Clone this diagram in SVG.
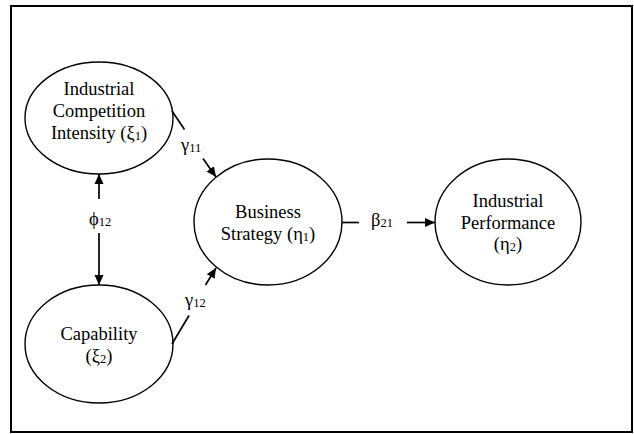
<svg xmlns="http://www.w3.org/2000/svg" width="634" height="434" viewBox="0 0 634 434">
<style>
.node ellipse{fill:#fff;stroke:#000;stroke-width:1.4}
text{font-family:'Liberation Serif','Times New Roman',serif;font-size:18.5px;fill:#000;text-anchor:middle}
.lbl{text-anchor:start;font-size:18.5px}
.sub{font-size:12.5px}
.conn line{stroke:#000;stroke-width:1.7;fill:none}
.arr{marker-end:url(#ah)}
</style>
<defs>
<marker id="ah" markerUnits="userSpaceOnUse" markerWidth="11" markerHeight="10" refX="10" refY="4.5" orient="auto" viewBox="0 0 11 9">
<path d="M0,0 L10,4.5 L0,9 z" fill="#000"/>
</marker>
</defs>
<rect x="11" y="6" width="621" height="426" fill="#fff" stroke="#000" stroke-width="2"/>
<g id="n1" class="node">
<ellipse cx="99" cy="118" rx="74" ry="56"/>
<text x="99" y="95">Industrial</text>
<text x="99" y="117">Competition</text>
<text x="99" y="139">Intensity (ξ<tspan class="sub" dy="1">1</tspan><tspan dy="-1">)</tspan></text>
</g>
<g id="n2" class="node">
<ellipse cx="99" cy="344" rx="74" ry="59"/>
<text x="99" y="340">Capability</text>
<text x="99" y="362">(ξ<tspan class="sub" dy="1">2</tspan><tspan dy="-1">)</tspan></text>
</g>
<g id="n3" class="node">
<ellipse cx="268" cy="222" rx="74" ry="63"/>
<text x="268" y="218">Business</text>
<text x="268" y="240">Strategy (η<tspan class="sub" dy="1">1</tspan><tspan dy="-1">)</tspan></text>
</g>
<g id="n4" class="node">
<ellipse cx="508" cy="222" rx="73" ry="63"/>
<text x="508" y="207">Industrial</text>
<text x="508" y="228.5">Performance</text>
<text x="508" y="250">(η<tspan class="sub" dy="1">2</tspan><tspan dy="-1">)</tspan></text>
</g>
<g id="connectors" class="conn">
<line x1="99" y1="199" x2="99" y2="174" class="arr"/>
<line x1="99" y1="233" x2="99" y2="285" class="arr"/>
<text class="lbl" x="89" y="225">ϕ<tspan class="sub" dy="1">12</tspan></text>
<line x1="172" y1="111" x2="184.5" y2="129.5"/>
<line x1="203" y1="158.5" x2="216" y2="177" class="arr"/>
<text class="lbl" x="181" y="151">γ<tspan class="sub" dy="1">11</tspan></text>
<line x1="172" y1="344" x2="189" y2="315.5"/>
<line x1="205.5" y1="285" x2="216" y2="268" class="arr"/>
<text class="lbl" x="185" y="306">γ<tspan class="sub" dy="1">12</tspan></text>
<line x1="342" y1="222.5" x2="359" y2="222.5"/>
<line x1="407" y1="222.5" x2="435" y2="222.5" class="arr"/>
<text class="lbl" x="371" y="226">β<tspan class="sub" dy="1">21</tspan></text>
</g>
</svg>
